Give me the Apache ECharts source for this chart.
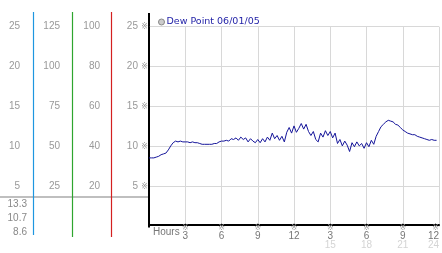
<!DOCTYPE html>
<html>
<head>
<meta charset="utf-8">
<script src="https://cdn.jsdelivr.net/npm/echarts@6/dist/echarts.min.js"></script>
<style>
html,body{margin:0;padding:0;background:#fff;}
#chart{width:442px;height:253px;}
</style>
</head>
<body>
<div id="chart"></div>
<script>
// ---- data ----
const seriesName = 'Dew Point 06/01/05';
const stepHours = 0.2; // sampling step of the readings below
const dewPoint = [
  8.6, 8.6, 8.6, 8.7, 8.8, 9.0, 9.1, 9.2, 9.6, 10.1,
  10.5, 10.7, 10.6, 10.7, 10.6, 10.6, 10.6, 10.5, 10.6, 10.5,
  10.5, 10.4, 10.3, 10.3, 10.3, 10.3, 10.3, 10.4, 10.4, 10.6,
  10.7, 10.7, 10.8, 10.7, 11.0, 10.9, 11.1, 10.8, 11.2, 10.9,
  11.1, 10.6, 11.0, 10.7, 10.5, 10.9, 10.5, 11.0, 10.6, 11.2,
  10.8, 11.7, 11.0, 11.4, 10.8, 11.3, 10.6, 11.8, 12.4, 11.7,
  12.6, 11.8, 12.3, 12.9, 12.2, 12.8, 11.9, 11.4, 11.9, 10.9,
  10.6, 11.7, 11.2, 12.0, 11.4, 11.9, 11.1, 11.7, 10.4, 10.9,
  10.1, 10.7, 10.2, 9.4, 10.5, 10.0, 10.6, 10.1, 10.4, 9.8,
  10.5, 10.0, 10.8, 10.3, 11.3, 11.9, 12.5, 12.8, 13.1, 13.3,
  13.2, 13.1, 12.8, 12.7, 12.4, 12.1, 11.9, 11.7, 11.6, 11.5,
  11.5, 11.3, 11.2, 11.1, 11.0, 10.9, 10.8, 10.9, 10.8, 10.8
];
const scaleA = [5, 10, 15, 20, 25];        // first left column
const scaleB = [25, 50, 75, 100, 125];     // second left column
const scaleC = [20, 40, 60, 80, 100];      // third left column
const scaleMain = [5, 10, 15, 20, 25];     // axis next to plot
const hourLabels = ['3', '6', '9', '12', '3', '6', '9', '12'];
const hourLabels2 = ['', '', '', '', '15', '18', '21', '24'];
const statLabels = ['13.3', '10.7', '8.6'];
const xAxisTitle = 'Hours';

// ---- chart ----
const FONT = 'Liberation Sans';
const chart = echarts.init(document.getElementById('chart'), null, {renderer: 'canvas'});

function sideAxis(vals, offset) {
  return {
    type: 'value', position: 'left', offset: offset,
    min: 0, max: vals[vals.length - 1], interval: vals[0],
    axisLine: {show: false}, axisTick: {show: false}, splitLine: {show: false},
    axisLabel: {
      margin: 0, color: '#999', fontFamily: FONT, fontSize: 10,
      formatter: v => vals.indexOf(v) >= 0 ? String(v) : ''
    }
  };
}

const option = {
  animation: false,
  backgroundColor: '#fff',
  grid: {left: 149, right: 3, top: 26.7, bottom: 26.3, containLabel: false},
  legend: {
    left: 158, top: 17, padding: 0, itemWidth: 6, itemHeight: 6, itemGap: 4,
    icon: 'circle',
    itemStyle: {color: '#ccc', borderColor: '#888', borderWidth: 1},
    textStyle: {color: '#2424a8', fontFamily: 'DejaVu Sans', fontSize: 9.5, padding: [0, 0, 0, -3]},
    data: [seriesName]
  },
  xAxis: {
    type: 'value', min: 0, max: 24, interval: 3, offset: -2,
    axisLine: {show: true, lineStyle: {color: '#000', width: 2}},
    axisTick: {show: false},
    splitLine: {show: true, showMinLine: false, lineStyle: {color: '#d8d8d8', width: 1}},
    axisLabel: {
      margin: 0, showMinLabel: false, alignMaxLabel: 'right',
      formatter: v => {
        const i = Math.round(v / 3) - 1;
        if (i < 0) return '';
        return '{s|※}\n{n|' + hourLabels[i] + '}\n{g|' + (hourLabels2[i] || ' ') + '}';
      },
      rich: {
        s: {fontSize: 8, lineHeight: 7, color: '#999', fontFamily: 'DejaVu Sans'},
        n: {fontSize: 10, lineHeight: 9, color: '#777', fontFamily: FONT},
        g: {fontSize: 10, lineHeight: 10, color: '#d4d4d4', fontFamily: FONT}
      }
    }
  },
  yAxis: [
    {
      type: 'value', position: 'left', min: 0, max: 25, interval: 5,
      axisLine: {show: true, lineStyle: {color: '#000', width: 2}},
      axisTick: {show: false},
      splitLine: {show: true, showMinLine: false, lineStyle: {color: '#d8d8d8', width: 1}},
      axisLabel: {
        margin: 1,
        formatter: v => scaleMain.indexOf(v) >= 0 ? '{n|' + v + '} {s|※}' : '',
        rich: {
          n: {fontSize: 10, color: '#999', fontFamily: FONT},
          s: {fontSize: 8, color: '#999', fontFamily: 'DejaVu Sans'}
        }
      }
    },
    sideAxis(scaleC, 49),
    sideAxis(scaleB, 89),
    sideAxis(scaleA, 129)
  ],
  series: [{
    name: seriesName,
    type: 'line',
    showSymbol: false,
    symbol: 'circle',
    color: '#15159a',
    lineStyle: {width: 1, color: '#15159a'},
    data: dewPoint.map((v, i) => [i * stepHours, v])
  }],
  graphic: [
    {type: 'line', shape: {x1: 149, y1: 13, x2: 149, y2: 27}, style: {stroke: '#000', lineWidth: 2}},
    {type: 'line', shape: {x1: 0, y1: 197, x2: 149, y2: 197}, style: {stroke: '#aaa', lineWidth: 1.5}},
    {type: 'line', shape: {x1: 33.5, y1: 12, x2: 33.5, y2: 235}, style: {stroke: '#1e96e0', lineWidth: 1.2}},
    {type: 'line', shape: {x1: 72.5, y1: 12, x2: 72.5, y2: 237}, style: {stroke: '#2ea52e', lineWidth: 1.2}},
    {type: 'line', shape: {x1: 111.5, y1: 12, x2: 111.5, y2: 237}, style: {stroke: '#d42020', lineWidth: 1.2}},
    {type: 'text', left: 153, top: 227, style: {text: xAxisTitle, fill: '#777', font: '10px "Liberation Sans"'}},
    ...statLabels.map((t, i) => ({
      type: 'text', right: 442 - 27, top: 199 + i * 14.3,
      style: {text: t, fill: '#888', font: '10px "Liberation Sans"', textAlign: 'right'}
    }))
  ]
};
chart.setOption(option);
</script>
</body>
</html>
